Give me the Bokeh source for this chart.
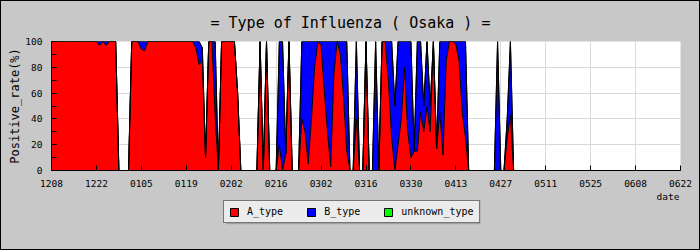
import numpy as np
from bokeh.plotting import figure
from bokeh.layouts import column
from bokeh.models import (Range1d, FixedTicker, SingleIntervalTicker, Label,
                          Legend, LegendItem, ColumnDataSource)
from bokeh.embed import file_html
from bokeh.resources import INLINE

FONT = "DejaVu Sans Mono"

title_text = "= Type of Influenza ( Osaka ) ="
tick_labels = ["1208", "1222", "0105", "0119", "0202", "0216", "0302", "0316",
               "0330", "0413", "0427", "0511", "0525", "0608", "0622"]
series_names = ["A_type", "B_type", "unknown_type"]

# daily positive rate (%) from 12/08 to 06/22
A_type = [
    100, 100, 100, 100, 100, 100, 100, 100, 100, 100, 100, 100, 100, 100,
    100, 97, 100, 97, 100, 100, 100, 0, 0, 0, 0, 100, 100, 100,
    94, 93, 100, 100, 100, 100, 100, 100, 100, 100, 100, 100, 100, 100,
    100, 100, 100, 95, 82, 85, 10, 100, 100, 42, 0, 100, 100, 100,
    100, 100, 60, 0, 0, 0, 0, 0, 0, 100, 0, 100, 0, 0,
    0, 20, 0, 13, 100, 0, 0, 0, 40, 30, 5, 40, 80, 100,
    97, 62, 30, 3, 75, 100, 90, 57, 15, 0, 0, 40, 0, 0,
    100, 0, 0, 0, 0, 100, 100, 68, 25, 0, 20, 40, 80, 30,
    10, 15, 15, 45, 30, 50, 30, 100, 17, 45, 12, 85, 100, 100,
    98, 85, 45, 25, 0, 0, 0, 0, 0, 0, 0, 0, 0, 0,
    0, 0, 25, 43, 0, 0, 0, 0, 0, 0, 0, 0, 0, 0,
    0, 0, 0, 0, 0, 0, 0, 0, 0, 0, 0, 0, 0, 0,
    0, 0, 0, 0, 0, 0, 0, 0, 0, 0, 0, 0, 0, 0,
    0, 0, 0, 0, 0, 0, 0, 0, 0, 0, 0, 0, 0, 0,
    0,
]
B_type = [
    0, 0, 0, 0, 0, 0, 0, 0, 0, 0, 0, 0, 0, 0,
    0, 3, 0, 3, 0, 0, 0, 0, 0, 0, 0, 0, 0, 0,
    6, 7, 0, 0, 0, 0, 0, 0, 0, 0, 0, 0, 0, 0,
    0, 0, 0, 5, 18, 10, 0, 0, 0, 58, 0, 0, 0, 0,
    0, 0, 0, 0, 0, 0, 0, 0, 0, 0, 0, 0, 0, 0,
    0, 80, 100, 0, 0, 0, 0, 0, 60, 70, 95, 60, 20, 0,
    3, 38, 70, 97, 25, 0, 10, 43, 85, 0, 0, 60, 0, 0,
    0, 0, 0, 100, 0, 0, 0, 32, 75, 50, 80, 60, 20, 70,
    90, 0, 85, 55, 20, 50, 20, 0, 0, 55, 88, 15, 0, 0,
    2, 15, 55, 75, 0, 0, 0, 0, 0, 0, 0, 0, 0, 100,
    0, 0, 15, 57, 0, 0, 0, 0, 0, 0, 0, 0, 0, 0,
    0, 0, 0, 0, 0, 0, 0, 0, 0, 0, 0, 0, 0, 0,
    0, 0, 0, 0, 0, 0, 0, 0, 0, 0, 0, 0, 0, 0,
    0, 0, 0, 0, 0, 0, 0, 0, 0, 0, 0, 0, 0, 0,
    0,
]
unknown_type = [
    0, 0, 0, 0, 0, 0, 0, 0, 0, 0, 0, 0, 0, 0,
    0, 0, 0, 0, 0, 0, 0, 0, 0, 0, 0, 0, 0, 0,
    0, 0, 0, 0, 0, 0, 0, 0, 0, 0, 0, 0, 0, 0,
    0, 0, 0, 0, 0, 0, 0, 0, 0, 0, 0, 0, 0, 0,
    0, 0, 0, 0, 0, 0, 0, 0, 0, 0, 0, 0, 0, 0,
    0, 0, 0, 0, 0, 0, 0, 0, 0, 0, 0, 0, 0, 0,
    0, 0, 0, 0, 0, 0, 0, 0, 0, 0, 0, 0, 0, 0,
    0, 0, 0, 0, 0, 0, 0, 0, 0, 0, 0, 0, 0, 0,
    0, 0, 0, 0, 0, 0, 0, 0, 0, 0, 0, 0, 0, 0,
    0, 0, 0, 0, 0, 0, 0, 0, 0, 0, 0, 0, 0, 0,
    0, 0, 0, 0, 0, 0, 0, 0, 0, 0, 0, 0, 0, 0,
    0, 0, 0, 0, 0, 0, 0, 0, 0, 0, 0, 0, 0, 0,
    0, 0, 0, 0, 0, 0, 0, 0, 0, 0, 0, 0, 0, 0,
    0, 0, 0, 0, 0, 0, 0, 0, 0, 0, 0, 0, 0, 0,
    0,
]

colors = ["#ff0000", "#0000ff", "#00ff00"]
BG = "#c8c8c8"

days = np.arange(len(A_type))
a = np.array(A_type, dtype=float)
ab = a + np.array(B_type, dtype=float)
abu = ab + np.array(unknown_type, dtype=float)
src = ColumnDataSource(dict(x=days, zero=np.zeros(len(days)), a=a, ab=ab, abu=abu))

n_days = len(A_type) - 1
tick_step = n_days // (len(tick_labels) - 1)
ticks = [i * tick_step for i in range(len(tick_labels))]

# ---------------- main chart ----------------
p = figure(width=698, height=190, x_range=Range1d(0, n_days), y_range=Range1d(0, 100),
           output_backend="svg", toolbar_location=None,
           min_border_left=50, min_border_right=19, min_border_top=40, min_border_bottom=21,
           background_fill_color="white", border_fill_color=BG,
           outline_line_color=None)

p.title.text = title_text
p.title.align = "left"
p.title.offset = 159
p.title.text_font = FONT
p.title.text_font_size = "15px"
p.title.text_font_style = "normal"
p.title.text_color = "black"
p.title.standoff = 20

p.varea(x="x", y1="zero", y2="a", source=src, fill_color=colors[0])
p.varea(x="x", y1="a", y2="ab", source=src, fill_color=colors[1])
p.varea(x="x", y1="ab", y2="abu", source=src, fill_color=colors[2])
p.line(x="x", y="a", source=src, line_color="black", line_width=1)
p.line(x="x", y="ab", source=src, line_color="black", line_width=1)
p.line(x="x", y="abu", source=src, line_color="black", line_width=1)

p.xaxis.ticker = FixedTicker(ticks=ticks)
p.xaxis.major_label_overrides = {t: lab for t, lab in zip(ticks, tick_labels)}
p.yaxis.ticker = SingleIntervalTicker(interval=20, num_minor_ticks=2)
p.xgrid.ticker = FixedTicker(ticks=ticks)
p.ygrid.ticker = SingleIntervalTicker(interval=20)
p.grid.grid_line_color = "#d9d9d9"
p.grid.grid_line_width = 1

for ax in (p.xaxis[0], p.yaxis[0]):
    ax.axis_line_color = "black"
    ax.major_tick_line_color = "black"
    ax.minor_tick_line_color = "black"
    ax.major_tick_in = 5
    ax.major_tick_out = 0
    ax.minor_tick_in = 5
    ax.minor_tick_out = 0
    ax.major_label_text_font = FONT
    ax.major_label_text_font_size = "9.5px"
    ax.major_label_text_color = "black"
    ax.major_label_standoff = 9
p.xaxis.minor_tick_line_color = None

p.yaxis.axis_label = "Positive_rate(%)"
p.yaxis.axis_label_text_font = FONT
p.yaxis.axis_label_text_font_size = "12px"
p.yaxis.axis_label_text_font_style = "normal"
p.yaxis.axis_label_text_color = "black"
p.yaxis.axis_label_standoff = 0

# ---------------- legend strip (frame aligned with the chart's frame, 1 unit = 1 px) ----------------
W2, H2 = 629, 53
p2 = figure(width=698, height=58, x_range=Range1d(0, W2), y_range=Range1d(0, H2),
            output_backend="svg", toolbar_location=None, min_border=0,
            x_axis_location=None, y_axis_location=None,
            background_fill_color=BG, border_fill_color=BG, outline_line_color=None)
for g in p2.grid:
    g.visible = False

p2.add_layout(Label(x=W2 - 1, y=48, text="date", text_align="right",
                    text_baseline="alphabetic", text_font=FONT,
                    text_font_size="9.5px", text_color="black"))

# legend box shadow
p2.quad(left=[175], right=[429], bottom=[23], top=[45], fill_color="#a0a0a0", line_color=None)
# legend swatch sources (hidden beneath the opaque legend box)
proxies = [p2.quad(left=[250], right=[251], bottom=[35], top=[36], fill_color=c,
                   line_color="black") for c in colors]

legend = Legend(items=[LegendItem(label=n, renderers=[r]) for n, r in zip(series_names, proxies)],
                location=(172, 26), orientation="horizontal", padding=5, spacing=23,
                glyph_width=10, glyph_height=10, label_height=10, label_standoff=8,
                margin=0, label_text_font=FONT, label_text_font_size="10px",
                border_line_color="black", background_fill_color="#ececec",
                background_fill_alpha=1, label_text_color="black")
p2.add_layout(legend)

page = column(p, p2, spacing=0)
page.styles = {"border": "1px solid black", "background-color": BG}

open("out.html", "w").write(file_html(page, INLINE))
